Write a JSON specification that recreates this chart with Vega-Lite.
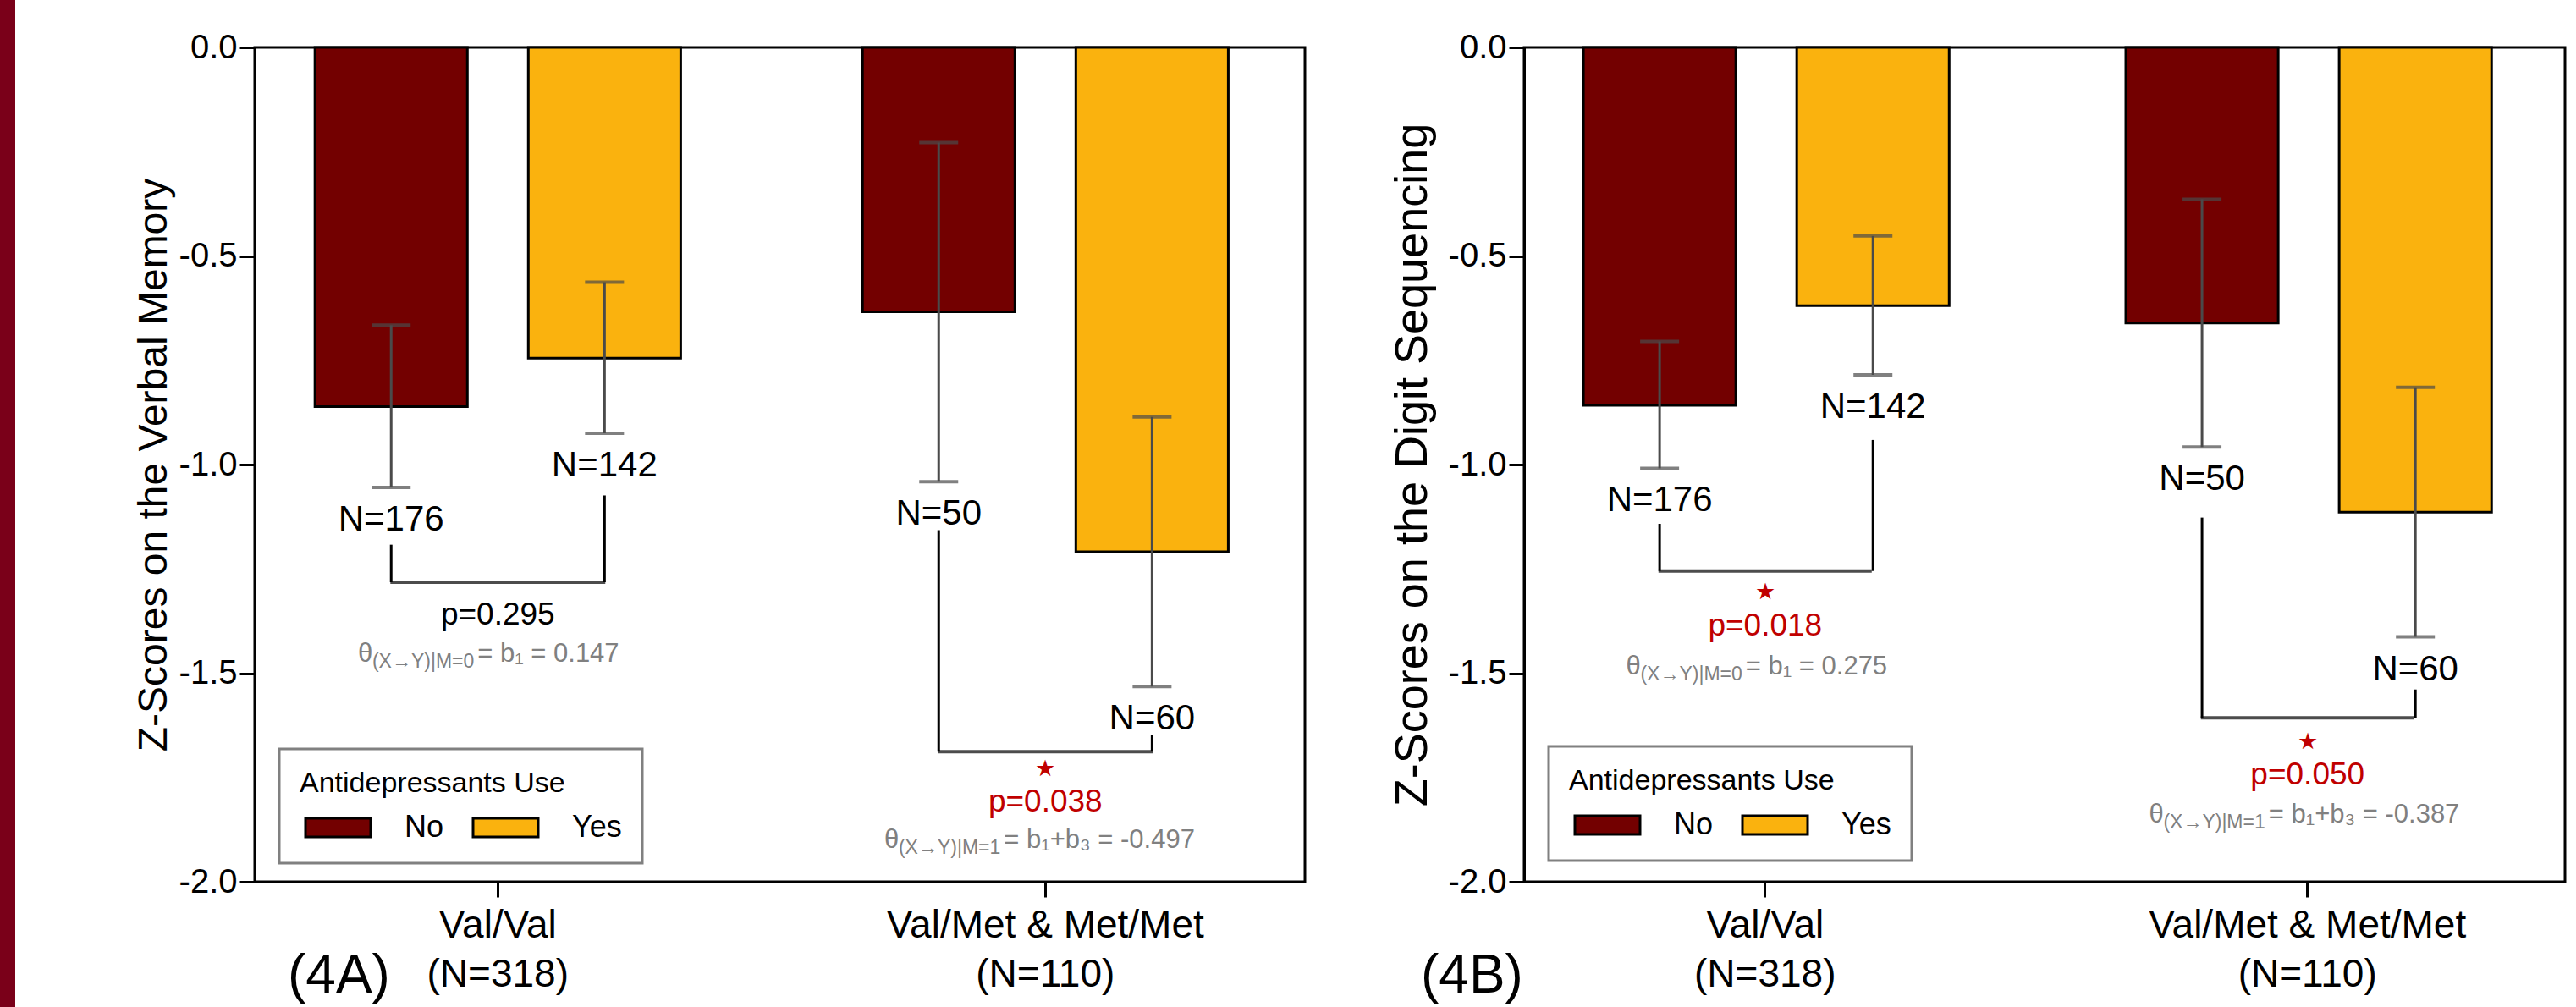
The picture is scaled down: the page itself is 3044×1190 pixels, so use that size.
{
  "$schema": "https://vega.github.io/schema/vega-lite/v6.json",
  "padding": {"left": 0, "top": -92, "right": 0, "bottom": 0},
  "background": "white",
  "bounds": "flush",
  "center": true,
  "spacing": 259,
  "datasets": {
    "bars": [
      {"panel": "A", "geno": "Val/Val", "ad": "No", "mean": -0.861, "lo": -1.055, "hi": -0.666, "n": "N=176"},
      {"panel": "A", "geno": "Val/Val", "ad": "Yes", "mean": -0.745, "lo": -0.925, "hi": -0.563, "n": "N=142"},
      {"panel": "A", "geno": "Val/Met & Met/Met", "ad": "No", "mean": -0.634, "lo": -1.041, "hi": -0.228, "n": "N=50"},
      {"panel": "A", "geno": "Val/Met & Met/Met", "ad": "Yes", "mean": -1.209, "lo": -1.532, "hi": -0.886, "n": "N=60"},
      {"panel": "B", "geno": "Val/Val", "ad": "No", "mean": -0.858, "lo": -1.009, "hi": -0.705, "n": "N=176"},
      {"panel": "B", "geno": "Val/Val", "ad": "Yes", "mean": -0.619, "lo": -0.785, "hi": -0.452, "n": "N=142"},
      {"panel": "B", "geno": "Val/Met & Met/Met", "ad": "No", "mean": -0.661, "lo": -0.958, "hi": -0.364, "n": "N=50"},
      {"panel": "B", "geno": "Val/Met & Met/Met", "ad": "Yes", "mean": -1.114, "lo": -1.413, "hi": -0.815, "n": "N=60"}
    ],
    "brk": [
      {"panel": "A", "geno": "Val/Val", "ad": "No", "top": -1.192, "bot": -1.282},
      {"panel": "A", "geno": "Val/Val", "ad": "Yes", "top": -1.074, "bot": -1.282},
      {"panel": "A", "geno": "Val/Met & Met/Met", "ad": "No", "top": -1.157, "bot": -1.688},
      {"panel": "A", "geno": "Val/Met & Met/Met", "ad": "Yes", "top": -1.647, "bot": -1.688},
      {"panel": "B", "geno": "Val/Val", "ad": "No", "top": -1.142, "bot": -1.255},
      {"panel": "B", "geno": "Val/Val", "ad": "Yes", "top": -0.941, "bot": -1.255},
      {"panel": "B", "geno": "Val/Met & Met/Met", "ad": "No", "top": -1.127, "bot": -1.607},
      {"panel": "B", "geno": "Val/Met & Met/Met", "ad": "Yes", "top": -1.539, "bot": -1.607}
    ],
    "ann": [
      {"panel": "A", "geno": "Val/Val", "h": -1.282, "p": "p=0.295", "sig": false, "starY": null, "pY": -1.362, "thY": -1.454, "kind": "t0", "main": "= b₁ = 0.147", "sub": "(X→Y)|M=0"},
      {"panel": "A", "geno": "Val/Met & Met/Met", "h": -1.688, "p": "p=0.038", "sig": true, "starY": -1.73, "pY": -1.809, "thY": -1.9, "kind": "t1", "main": "= b₁+b₃ = -0.497", "sub": "(X→Y)|M=1"},
      {"panel": "B", "geno": "Val/Val", "h": -1.255, "p": "p=0.018", "sig": true, "starY": -1.306, "pY": -1.387, "thY": -1.485, "kind": "t0", "main": "= b₁ = 0.275", "sub": "(X→Y)|M=0"},
      {"panel": "B", "geno": "Val/Met & Met/Met", "h": -1.607, "p": "p=0.050", "sig": true, "starY": -1.665, "pY": -1.745, "thY": -1.84, "kind": "t1", "main": "= b₁+b₃ = -0.387", "sub": "(X→Y)|M=1"}
    ]
  },
  "hconcat": [
    {
      "width": 42,
      "height": 1282,
      "view": {"stroke": null},
      "data": {"values": [{"s": "band"}]},
      "mark": {"type": "bar", "color": "#7a0019"},
      "encoding": {
        "x": {"field": "s", "type": "nominal", "scale": {"paddingInner": 0, "paddingOuter": 0.6667, "align": 0}, "axis": null}
      }
    },
    {
      "width": 1241,
      "height": 986,
      "title": {"text": "(4A)", "orient": "bottom", "anchor": "start", "frame": "group", "fontSize": 64, "fontWeight": "normal", "color": "black", "offset": -52, "dx": 39},
      "encoding": {
        "x": {
          "field": "geno", "type": "nominal",
          "scale": {"domain": ["Val/Val", "Val/Met & Met/Met"], "paddingInner": 0.332, "paddingOuter": 0.125, "align": 0.44},
          "axis": {"title": null, "labelAngle": 0, "labelFontSize": 46, "labelLineHeight": 58, "labelPadding": 11, "labelLimit": 1000, "tickSize": 18, "tickWidth": 3, "domainWidth": 3,
            "labelExpr": "datum.label == 'Val/Val' ? ['Val/Val', '(N=318)'] : ['Val/Met & Met/Met', '(N=110)']"}
        }
      },
      "layer": [
        {
          "data": {"name": "bars"},
          "transform": [{"filter": "datum.panel == 'A'"}],
          "mark": {"type": "bar", "stroke": "black", "strokeWidth": 3},
          "encoding": {
            "xOffset": {"field": "ad", "type": "nominal", "scale": {"domain": ["No", "Yes"], "paddingInner": 0.2856, "paddingOuter": 0}},
            "y": {"field": "mean", "type": "quantitative", "title": "Z-Scores on the Verbal Memory",
              "scale": {"domain": [-2, 0], "nice": false},
              "axis": {"values": [0, -0.5, -1, -1.5, -2], "labelExpr": "replace(format(datum.value, '.1f'), '−', '-')", "labelFontSize": 40, "labelPadding": 3, "tickSize": 18, "tickWidth": 3, "domainWidth": 3, "titleFontSize": 48, "titlePadding": 5, "titleFontWeight": "normal", "grid": false}},
            "color": {"field": "ad", "type": "nominal",
              "scale": {"domain": ["No", "Yes"], "range": ["#730000", "#FAB20E"]},
              "legend": {"orient": "none", "legendX": 29, "legendY": 829, "direction": "horizontal", "title": "Antidepressants Use", "titleFontSize": 34, "titleFontWeight": "normal", "titleColor": "black", "titleLimit": 1000, "titlePadding": 17, "labelFontSize": 36, "labelColor": "black", "symbolType": "M-1,-1H6V1H-1Z", "symbolSize": 484, "symbolStrokeColor": "black", "symbolStrokeWidth": 3, "symbolOpacity": 1, "labelOffset": 88, "columnPadding": 27, "padding": 24, "strokeColor": "#808080", "fillColor": "white"}}
          }
        },
        {
          "data": {"name": "bars"},
          "transform": [{"filter": "datum.panel == 'A'"}],
          "mark": {"type": "rule", "color": "#4a4a4a", "strokeWidth": 3},
          "encoding": {
            "xOffset": {"field": "ad", "type": "nominal", "scale": {"domain": ["No", "Yes"], "paddingInner": 0.2856, "paddingOuter": 0}},
            "y": {"field": "lo", "type": "quantitative", "title": "Z-Scores on the Verbal Memory"},
            "y2": {"field": "hi"}
          }
        },
        {
          "data": {"name": "bars"},
          "transform": [{"filter": "datum.panel == 'A'"}],
          "mark": {"type": "tick", "color": "#4a4a4a", "size": 46, "thickness": 4},
          "encoding": {
            "xOffset": {"field": "ad", "type": "nominal", "scale": {"domain": ["No", "Yes"], "paddingInner": 0.2856, "paddingOuter": 0}},
            "y": {"field": "lo", "type": "quantitative", "title": "Z-Scores on the Verbal Memory"}
          }
        },
        {
          "data": {"name": "bars"},
          "transform": [{"filter": "datum.panel == 'A'"}],
          "mark": {"type": "tick", "color": "#4a4a4a", "size": 46, "thickness": 4},
          "encoding": {
            "xOffset": {"field": "ad", "type": "nominal", "scale": {"domain": ["No", "Yes"], "paddingInner": 0.2856, "paddingOuter": 0}},
            "y": {"field": "hi", "type": "quantitative", "title": "Z-Scores on the Verbal Memory"}
          }
        },
        {
          "data": {"name": "bars"},
          "transform": [{"filter": "datum.panel == 'A'"}],
          "mark": {"type": "text", "fontSize": 42, "color": "black", "dy": 38},
          "encoding": {
            "xOffset": {"field": "ad", "type": "nominal", "scale": {"domain": ["No", "Yes"], "paddingInner": 0.2856, "paddingOuter": 0}},
            "y": {"field": "lo", "type": "quantitative", "title": "Z-Scores on the Verbal Memory"},
            "text": {"field": "n"}
          }
        },
        {
          "data": {"name": "brk"},
          "transform": [{"filter": "datum.panel == 'A'"}],
          "mark": {"type": "rule", "color": "black", "strokeWidth": 3},
          "encoding": {
            "xOffset": {"field": "ad", "type": "nominal", "scale": {"domain": ["No", "Yes"], "paddingInner": 0.2856, "paddingOuter": 0}},
            "y": {"field": "top", "type": "quantitative", "title": "Z-Scores on the Verbal Memory"},
            "y2": {"field": "bot"}
          }
        },
        {
          "data": {"name": "ann"},
          "transform": [{"filter": "datum.panel == 'A'"}],
          "mark": {"type": "tick", "color": "black", "size": 254, "thickness": 4},
          "encoding": {
            "y": {"field": "h", "type": "quantitative", "title": "Z-Scores on the Verbal Memory"}
          }
        },
        {
          "data": {"name": "ann"},
          "transform": [{"filter": "datum.panel == 'A' && !datum.sig"}],
          "mark": {"type": "text", "fontSize": 37, "color": "black"},
          "encoding": {
            "y": {"field": "pY", "type": "quantitative", "title": "Z-Scores on the Verbal Memory"},
            "text": {"field": "p"}
          }
        },
        {
          "data": {"name": "ann"},
          "transform": [{"filter": "datum.panel == 'A' && datum.sig"}],
          "mark": {"type": "text", "fontSize": 37, "color": "#C00000"},
          "encoding": {
            "y": {"field": "pY", "type": "quantitative", "title": "Z-Scores on the Verbal Memory"},
            "text": {"field": "p"}
          }
        },
        {
          "data": {"name": "ann"},
          "transform": [{"filter": "datum.panel == 'A' && datum.sig"}],
          "mark": {"type": "text", "fontSize": 27, "color": "#C00000", "text": "★"},
          "encoding": {
            "y": {"field": "starY", "type": "quantitative", "title": "Z-Scores on the Verbal Memory"}
          }
        },
        {
          "data": {"name": "ann"},
          "transform": [{"filter": "datum.panel == 'A' && datum.kind == 't0'"}],
          "mark": {"type": "text", "fontSize": 31, "color": "#808080", "align": "left", "dx": -24},
          "encoding": {
            "y": {"field": "thY", "type": "quantitative", "title": "Z-Scores on the Verbal Memory"},
            "text": {"field": "main"}
          }
        },
        {
          "data": {"name": "ann"},
          "transform": [{"filter": "datum.panel == 'A' && datum.kind == 't0'"}],
          "mark": {"type": "text", "fontSize": 23, "color": "#808080", "align": "right", "dx": -28, "dy": 9},
          "encoding": {
            "y": {"field": "thY", "type": "quantitative", "title": "Z-Scores on the Verbal Memory"},
            "text": {"field": "sub"}
          }
        },
        {
          "data": {"name": "ann"},
          "transform": [{"filter": "datum.panel == 'A' && datum.kind == 't0'"}],
          "mark": {"type": "text", "fontSize": 31, "color": "#808080", "align": "right", "dx": -148, "text": "θ"},
          "encoding": {
            "y": {"field": "thY", "type": "quantitative", "title": "Z-Scores on the Verbal Memory"}
          }
        },
        {
          "data": {"name": "ann"},
          "transform": [{"filter": "datum.panel == 'A' && datum.kind == 't1'"}],
          "mark": {"type": "text", "fontSize": 31, "color": "#808080", "align": "left", "dx": -49},
          "encoding": {
            "y": {"field": "thY", "type": "quantitative", "title": "Z-Scores on the Verbal Memory"},
            "text": {"field": "main"}
          }
        },
        {
          "data": {"name": "ann"},
          "transform": [{"filter": "datum.panel == 'A' && datum.kind == 't1'"}],
          "mark": {"type": "text", "fontSize": 23, "color": "#808080", "align": "right", "dx": -53, "dy": 9},
          "encoding": {
            "y": {"field": "thY", "type": "quantitative", "title": "Z-Scores on the Verbal Memory"},
            "text": {"field": "sub"}
          }
        },
        {
          "data": {"name": "ann"},
          "transform": [{"filter": "datum.panel == 'A' && datum.kind == 't1'"}],
          "mark": {"type": "text", "fontSize": 31, "color": "#808080", "align": "right", "dx": -173, "text": "θ"},
          "encoding": {
            "y": {"field": "thY", "type": "quantitative", "title": "Z-Scores on the Verbal Memory"}
          }
        }
      ]
    },
    {
      "width": 1230,
      "height": 986,
      "title": {"text": "(4B)", "orient": "bottom", "anchor": "start", "frame": "group", "fontSize": 64, "fontWeight": "normal", "color": "black", "offset": -52, "dx": -122},
      "encoding": {
        "x": {
          "field": "geno", "type": "nominal",
          "scale": {"domain": ["Val/Val", "Val/Met & Met/Met"], "paddingInner": 0.33, "paddingOuter": 0.1245, "align": 0.439},
          "axis": {"title": null, "labelAngle": 0, "labelFontSize": 46, "labelLineHeight": 58, "labelPadding": 11, "labelLimit": 1000, "tickSize": 18, "tickWidth": 3, "domainWidth": 3,
            "labelExpr": "datum.label == 'Val/Val' ? ['Val/Val', '(N=318)'] : ['Val/Met & Met/Met', '(N=110)']"}
        }
      },
      "layer": [
        {
          "data": {"name": "bars"},
          "transform": [{"filter": "datum.panel == 'B'"}],
          "mark": {"type": "bar", "stroke": "black", "strokeWidth": 3},
          "encoding": {
            "xOffset": {"field": "ad", "type": "nominal", "scale": {"domain": ["No", "Yes"], "paddingInner": 0.2854, "paddingOuter": 0}},
            "y": {"field": "mean", "type": "quantitative", "title": "Z-Scores on the Digit Sequencing",
              "scale": {"domain": [-2, 0], "nice": false},
              "axis": {"values": [0, -0.5, -1, -1.5, -2], "labelExpr": "replace(format(datum.value, '.1f'), '−', '-')", "labelFontSize": 40, "labelPadding": 3, "tickSize": 18, "tickWidth": 3, "domainWidth": 3, "titleFontSize": 54, "titlePadding": 15, "titleFontWeight": "normal", "grid": false}},
            "color": {"field": "ad", "type": "nominal",
              "scale": {"domain": ["No", "Yes"], "range": ["#730000", "#FAB20E"]},
              "legend": {"orient": "none", "legendX": 29, "legendY": 826, "direction": "horizontal", "title": "Antidepressants Use", "titleFontSize": 34, "titleFontWeight": "normal", "titleColor": "black", "titleLimit": 1000, "titlePadding": 17, "labelFontSize": 36, "labelColor": "black", "symbolType": "M-1,-1H6V1H-1Z", "symbolSize": 484, "symbolStrokeColor": "black", "symbolStrokeWidth": 3, "symbolOpacity": 1, "labelOffset": 88, "columnPadding": 27, "padding": 24, "strokeColor": "#808080", "fillColor": "white"}}
          }
        },
        {
          "data": {"name": "bars"},
          "transform": [{"filter": "datum.panel == 'B'"}],
          "mark": {"type": "rule", "color": "#4a4a4a", "strokeWidth": 3},
          "encoding": {
            "xOffset": {"field": "ad", "type": "nominal", "scale": {"domain": ["No", "Yes"], "paddingInner": 0.2854, "paddingOuter": 0}},
            "y": {"field": "lo", "type": "quantitative", "title": "Z-Scores on the Digit Sequencing"},
            "y2": {"field": "hi"}
          }
        },
        {
          "data": {"name": "bars"},
          "transform": [{"filter": "datum.panel == 'B'"}],
          "mark": {"type": "tick", "color": "#4a4a4a", "size": 46, "thickness": 4},
          "encoding": {
            "xOffset": {"field": "ad", "type": "nominal", "scale": {"domain": ["No", "Yes"], "paddingInner": 0.2854, "paddingOuter": 0}},
            "y": {"field": "lo", "type": "quantitative", "title": "Z-Scores on the Digit Sequencing"}
          }
        },
        {
          "data": {"name": "bars"},
          "transform": [{"filter": "datum.panel == 'B'"}],
          "mark": {"type": "tick", "color": "#4a4a4a", "size": 46, "thickness": 4},
          "encoding": {
            "xOffset": {"field": "ad", "type": "nominal", "scale": {"domain": ["No", "Yes"], "paddingInner": 0.2854, "paddingOuter": 0}},
            "y": {"field": "hi", "type": "quantitative", "title": "Z-Scores on the Digit Sequencing"}
          }
        },
        {
          "data": {"name": "bars"},
          "transform": [{"filter": "datum.panel == 'B'"}],
          "mark": {"type": "text", "fontSize": 42, "color": "black", "dy": 38},
          "encoding": {
            "xOffset": {"field": "ad", "type": "nominal", "scale": {"domain": ["No", "Yes"], "paddingInner": 0.2854, "paddingOuter": 0}},
            "y": {"field": "lo", "type": "quantitative", "title": "Z-Scores on the Digit Sequencing"},
            "text": {"field": "n"}
          }
        },
        {
          "data": {"name": "brk"},
          "transform": [{"filter": "datum.panel == 'B'"}],
          "mark": {"type": "rule", "color": "black", "strokeWidth": 3},
          "encoding": {
            "xOffset": {"field": "ad", "type": "nominal", "scale": {"domain": ["No", "Yes"], "paddingInner": 0.2854, "paddingOuter": 0}},
            "y": {"field": "top", "type": "quantitative", "title": "Z-Scores on the Digit Sequencing"},
            "y2": {"field": "bot"}
          }
        },
        {
          "data": {"name": "ann"},
          "transform": [{"filter": "datum.panel == 'B'"}],
          "mark": {"type": "tick", "color": "black", "size": 252, "thickness": 4},
          "encoding": {
            "y": {"field": "h", "type": "quantitative", "title": "Z-Scores on the Digit Sequencing"}
          }
        },
        {
          "data": {"name": "ann"},
          "transform": [{"filter": "datum.panel == 'B' && datum.sig"}],
          "mark": {"type": "text", "fontSize": 37, "color": "#C00000"},
          "encoding": {
            "y": {"field": "pY", "type": "quantitative", "title": "Z-Scores on the Digit Sequencing"},
            "text": {"field": "p"}
          }
        },
        {
          "data": {"name": "ann"},
          "transform": [{"filter": "datum.panel == 'B' && datum.sig"}],
          "mark": {"type": "text", "fontSize": 27, "color": "#C00000", "text": "★"},
          "encoding": {
            "y": {"field": "starY", "type": "quantitative", "title": "Z-Scores on the Digit Sequencing"}
          }
        },
        {
          "data": {"name": "ann"},
          "transform": [{"filter": "datum.panel == 'B' && datum.kind == 't0'"}],
          "mark": {"type": "text", "fontSize": 31, "color": "#808080", "align": "left", "dx": -23},
          "encoding": {
            "y": {"field": "thY", "type": "quantitative", "title": "Z-Scores on the Digit Sequencing"},
            "text": {"field": "main"}
          }
        },
        {
          "data": {"name": "ann"},
          "transform": [{"filter": "datum.panel == 'B' && datum.kind == 't0'"}],
          "mark": {"type": "text", "fontSize": 23, "color": "#808080", "align": "right", "dx": -27, "dy": 9},
          "encoding": {
            "y": {"field": "thY", "type": "quantitative", "title": "Z-Scores on the Digit Sequencing"},
            "text": {"field": "sub"}
          }
        },
        {
          "data": {"name": "ann"},
          "transform": [{"filter": "datum.panel == 'B' && datum.kind == 't0'"}],
          "mark": {"type": "text", "fontSize": 31, "color": "#808080", "align": "right", "dx": -147, "text": "θ"},
          "encoding": {
            "y": {"field": "thY", "type": "quantitative", "title": "Z-Scores on the Digit Sequencing"}
          }
        },
        {
          "data": {"name": "ann"},
          "transform": [{"filter": "datum.panel == 'B' && datum.kind == 't1'"}],
          "mark": {"type": "text", "fontSize": 31, "color": "#808080", "align": "left", "dx": -46},
          "encoding": {
            "y": {"field": "thY", "type": "quantitative", "title": "Z-Scores on the Digit Sequencing"},
            "text": {"field": "main"}
          }
        },
        {
          "data": {"name": "ann"},
          "transform": [{"filter": "datum.panel == 'B' && datum.kind == 't1'"}],
          "mark": {"type": "text", "fontSize": 23, "color": "#808080", "align": "right", "dx": -50, "dy": 9},
          "encoding": {
            "y": {"field": "thY", "type": "quantitative", "title": "Z-Scores on the Digit Sequencing"},
            "text": {"field": "sub"}
          }
        },
        {
          "data": {"name": "ann"},
          "transform": [{"filter": "datum.panel == 'B' && datum.kind == 't1'"}],
          "mark": {"type": "text", "fontSize": 31, "color": "#808080", "align": "right", "dx": -170, "text": "θ"},
          "encoding": {
            "y": {"field": "thY", "type": "quantitative", "title": "Z-Scores on the Digit Sequencing"}
          }
        }
      ]
    }
  ],
  "resolve": {"scale": {"color": "independent"}, "legend": {"color": "independent"}},
  "config": {
    "font": "Liberation Sans",
    "view": {"stroke": "black", "strokeWidth": 3},
    "axis": {"domainColor": "black", "tickColor": "black", "labelColor": "black", "titleColor": "black", "labelFont": "Liberation Sans", "titleFont": "Liberation Sans"},
    "legend": {"labelFont": "Liberation Sans", "titleFont": "Liberation Sans", "strokeWidth": 3},
    "text": {"font": "Liberation Sans"},
    "title": {"font": "Liberation Sans"}
  }
}
